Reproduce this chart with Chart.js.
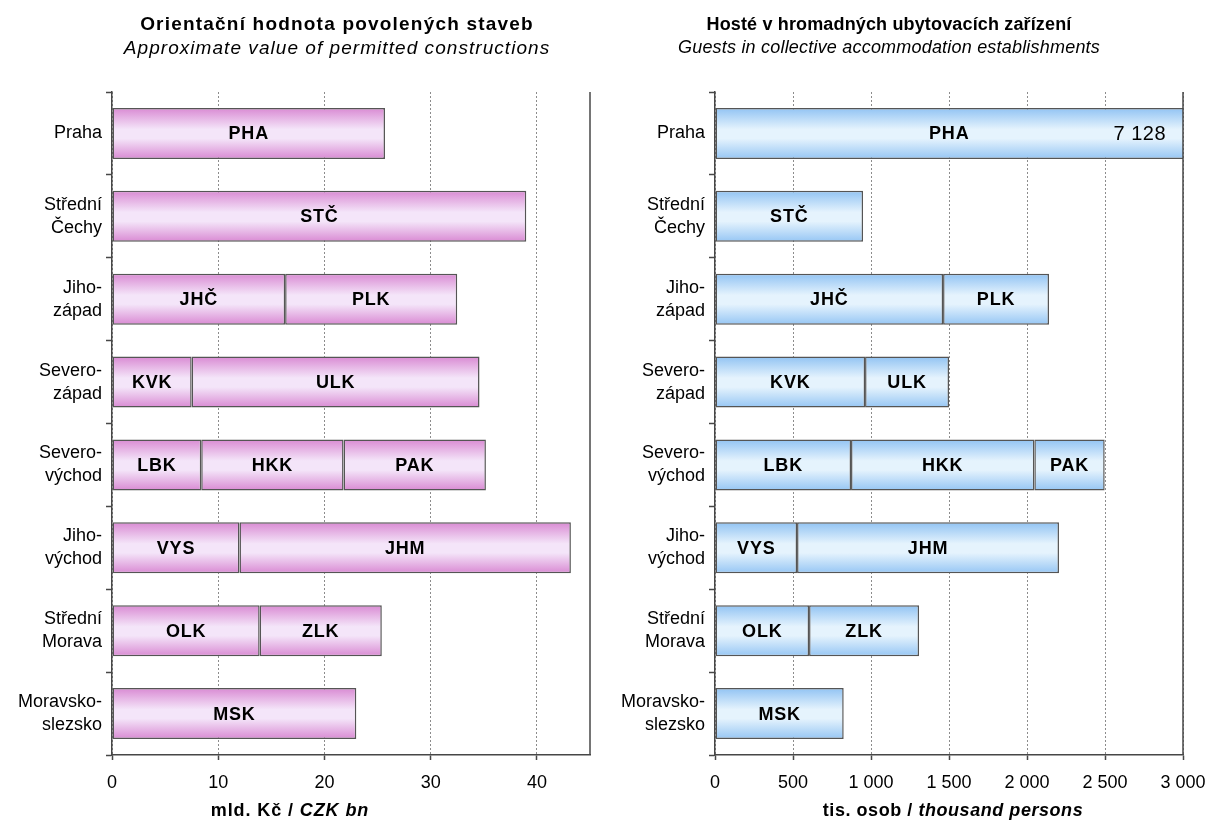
<!DOCTYPE html>
<html><head><meta charset="utf-8">
<script src="https://cdn.jsdelivr.net/npm/chart.js@4/dist/chart.umd.min.js"></script>
<style>
html,body{margin:0;padding:0;background:#fff;}
#wrap{position:relative;width:1218px;height:821px;overflow:hidden;font-family:"Liberation Sans",Arial,sans-serif;color:#000}
canvas{position:absolute;left:0;top:0}
.t{position:absolute;width:640px;text-align:center;font-size:18px;line-height:23px;white-space:nowrap}
.a{position:absolute;width:400px;text-align:center;font-size:18px;line-height:23px;font-weight:bold;white-space:nowrap}
</style></head><body>
<div id="wrap">
<canvas id="c1" width="1218" height="821"></canvas>
<canvas id="c2" width="1218" height="821"></canvas>
<div class="t" style="left:17px;top:12px"><b style="letter-spacing:1.2px;font-size:19px">Orientační hodnota povolených staveb</b><br><i style="letter-spacing:1.05px;font-size:19px">Approximate value of permitted constructions</i></div>
<div class="t" style="left:569px;top:13px"><b style="letter-spacing:0.15px">Hosté v hromadných ubytovacích zařízení</b><br><i style="letter-spacing:0.2px">Guests in collective accommodation establishments</i></div>
<div class="a" style="left:90px;top:799px;letter-spacing:0.9px">mld. Kč / <i>CZK bn</i></div>
<div class="a" style="left:753px;top:799px;letter-spacing:0.55px">tis. osob / <i>thousand persons</i></div>
</div>
<script>
const categories = [['Praha'],['Střední','Čechy'],['Jiho-','západ'],['Severo-','západ'],['Severo-','východ'],['Jiho-','východ'],['Střední','Morava'],['Moravsko-','slezsko']];
const codes1 = ['PHA','STČ','JHČ','KVK','LBK','VYS','OLK','MSK'];
const codes2 = [null,null,'PLK','ULK','HKK','JHM','ZLK',null];
const codes3 = [null,null,null,null,'PAK',null,null,null];

const buildSeg1 = [25.7, 39.0, 16.3, 7.5, 8.4, 12.0, 13.9, 23.0];
const buildSeg2 = [null, null, 16.2, 27.1, 13.4, 31.2, 11.5, null];
const buildSeg3 = [null, null, null, null, 13.4, null, null, null];

const guestSeg1 = [7128, 949, 1462, 962, 872, 526, 603, 825];
const guestSeg2 = [null, null, 679, 538, 1175, 1679, 705, null];
const guestSeg3 = [null, null, null, null, 451, null, null, null];

const buildTicks = [0, 10, 20, 30, 40];
const buildMax = 45;
const guestTicks = [0, 500, 1000, 1500, 2000, 2500, 3000];
const guestMax = 3000;

const BAR_PCT = 0.615;
const FONT = '"Liberation Sans", Arial, sans-serif';
const AXIS = '#474747';

function fmt(v){ return String(v).replace(/\B(?=(\d{3})+(?!\d))/g, ' '); }

function grad(stops){
  return (ctx) => {
    const chart = ctx.chart;
    const ys = chart.scales && chart.scales.y;
    if (!ys || ctx.dataIndex === undefined || !chart.chartArea) return stops[1];
    const c = ys.getPixelForValue(ctx.dataIndex);
    const half = (ys.height / categories.length) * BAR_PCT / 2;
    const g = chart.ctx.createLinearGradient(0, c - half, 0, c + half);
    g.addColorStop(0, stops[0]);
    g.addColorStop(0.42, stops[1]);
    g.addColorStop(0.6, stops[1]);
    g.addColorStop(1, stops[2]);
    return g;
  };
}

const labelPlugin = {
  id: 'segLabels',
  afterDatasetsDraw(chart) {
    const ctx = chart.ctx, area = chart.chartArea;
    ctx.save();
    chart.data.datasets.forEach((ds, i) => {
      const meta = chart.getDatasetMeta(i);
      meta.data.forEach((el, j) => {
        const code = ds.codes[j];
        if (!code || ds.data[j] == null) return;
        const l = Math.max(Math.min(el.x, el.base), area.left);
        const r = Math.min(Math.max(el.x, el.base), area.right);
        ctx.font = 'bold 18px ' + FONT;
        if ('letterSpacing' in ctx) ctx.letterSpacing = '0.8px';
        ctx.fillStyle = '#000';
        ctx.textAlign = 'center';
        ctx.textBaseline = 'middle';
        ctx.fillText(code, (l + r) / 2, el.y + 1);
        if (el.x > area.right + 1) {
          ctx.font = '20px ' + FONT;
          if ('letterSpacing' in ctx) ctx.letterSpacing = '0.5px';
          ctx.textAlign = 'right';
          ctx.fillText(fmt(ds.data[j]), area.right - 17, el.y + 1);
        }
      });
    });
    if ('letterSpacing' in ctx) ctx.letterSpacing = '0px';
    ctx.strokeStyle = AXIS;
    ctx.lineWidth = 1.5;
    ctx.beginPath();
    ctx.moveTo(area.right, area.top);
    ctx.lineTo(area.right, area.bottom);
    ctx.stroke();
    ctx.restore();
  }
};

function makeChart(id, segs, max, ticks, colors, yWidth, padRight, tickFmt) {
  const ds = segs.map((d, k) => ({
    data: d,
    codes: [codes1, codes2, codes3][k],
    backgroundColor: grad(colors),
    borderColor: '#555555',
    borderWidth: 1.5,
    borderSkipped: false,
    barPercentage: BAR_PCT,
    categoryPercentage: 1,
    clip: {left: 2, right: 0, top: 2, bottom: 2}
  }));
  return new Chart(document.getElementById(id), {
    type: 'bar',
    data: { labels: categories, datasets: ds },
    options: {
      indexAxis: 'y',
      responsive: false,
      devicePixelRatio: 1,
      animation: false,
      layout: { padding: { top: 92, left: 0, right: padRight, bottom: 0 } },
      plugins: { legend: { display: false }, tooltip: { enabled: false }, title: { display: false } },
      scales: {
        x: {
          stacked: true,
          min: 0, max: max,
          afterBuildTicks: (s) => { s.ticks = ticks.map(v => ({ value: v })); },
          afterFit: (s) => { s.height = 66; },
          border: { display: true, color: AXIS, width: 1.5, dash: [2, 2] },
          grid: { color: '#8c8c8c', lineWidth: 1, drawTicks: true, tickLength: 5, tickColor: AXIS, tickWidth: 1.5, tickBorderDash: [] },
          ticks: { color: '#000', font: { family: FONT, size: 18 }, padding: 12, maxRotation: 0, autoSkip: false, callback: tickFmt }
        },
        y: {
          stacked: true,
          afterFit: (s) => { s.width = yWidth; },
          border: { display: true, color: AXIS, width: 1.5 },
          grid: { offset: true, drawOnChartArea: false, drawTicks: true, tickLength: 6, tickColor: AXIS, tickWidth: 1.5 },
          ticks: { color: '#000', font: { family: FONT, size: 18, lineHeight: 1.28 }, padding: 4, autoSkip: false }
        }
      }
    },
    plugins: [labelPlugin]
  });
}

const pink = ['#d98ad3', '#f4e5f9', '#d98ad3'];
const blue = ['#91c3f3', '#e5f3fd', '#96c6f4'];

makeChart('c1', [buildSeg1, buildSeg2, buildSeg3], buildMax, buildTicks, pink, 112, 1218 - 590, (v) => v);
makeChart('c2', [guestSeg1, guestSeg2, guestSeg3], guestMax, guestTicks, blue, 715, 1218 - 1183, (v) => fmt(v));
</script>
</body></html>
